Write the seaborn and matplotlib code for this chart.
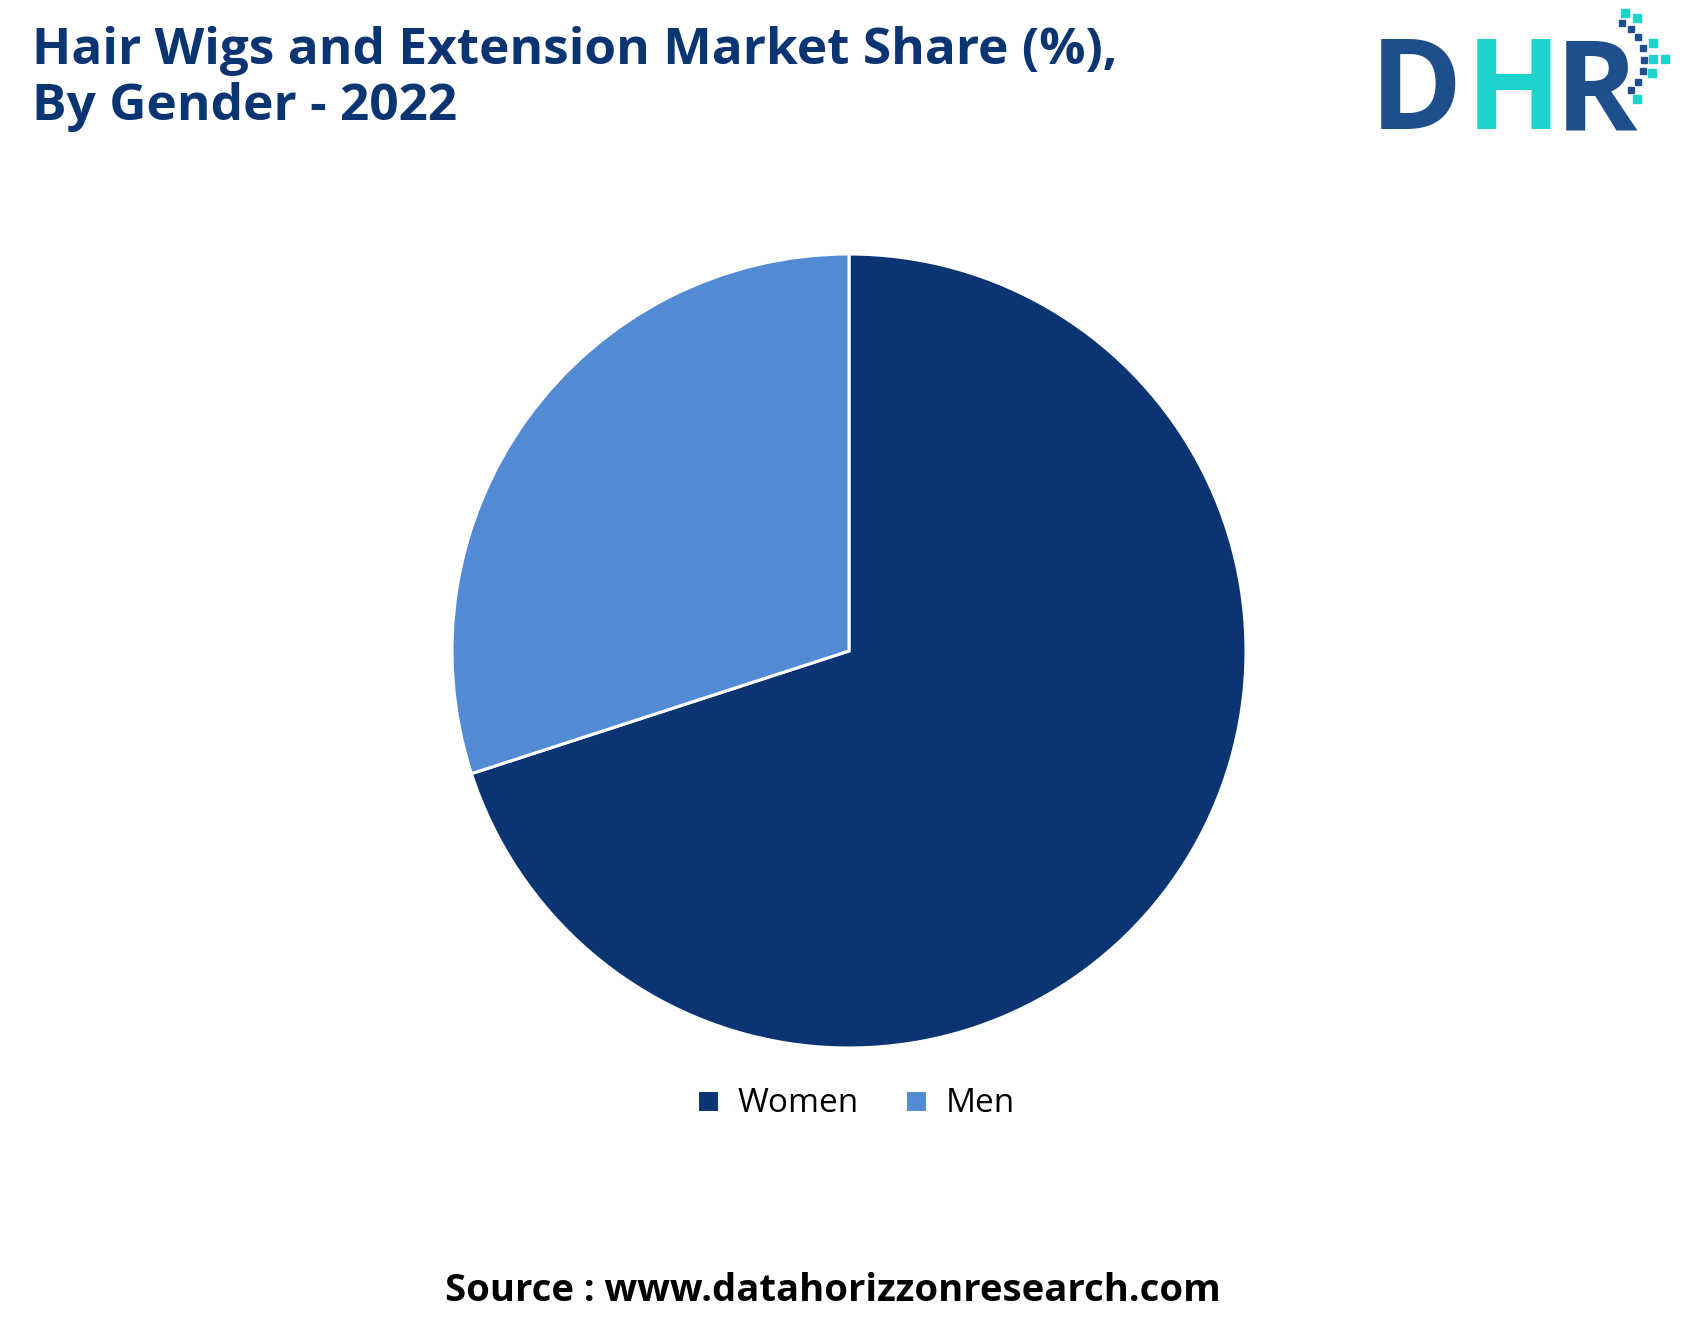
import matplotlib
matplotlib.use("Agg")
import matplotlib.pyplot as plt
import matplotlib.patches as mpatches
import seaborn as sns

# data
genders = ["Women", "Men"]
shares = [70, 30]
colors = ["#0a3472", "#528bd4"]

title = "Hair Wigs and Extension Market Share (%),\nBy Gender - 2022"
source = "Source : www.datahorizzonresearch.com"

sns.set_theme(style="white")
plt.rcParams['font.family'] = ['Open Sans', 'DejaVu Sans']

W, H = 1686, 1333
fig = plt.figure(figsize=(W / 100, H / 100), dpi=100)
fig.patch.set_facecolor("white")

# pie axes: centre (849, 651) px, radius 397 px
cx, cy, r = 849, 651, 397
ax = fig.add_axes([(cx - r) / W, 1 - (cy + r) / H, 2 * r / W, 2 * r / H])
wedges, _ = ax.pie(shares, colors=colors, startangle=90, counterclock=False,
                   wedgeprops=dict(edgecolor="white", linewidth=2.2))
ax.set_xlim(-1, 1)
ax.set_ylim(-1, 1)
ax.set_aspect("equal")
ax.axis("off")

# legend
fig.legend(wedges, genders, loc="center", bbox_to_anchor=(856 / W, 1 - 1104 / H),
           ncol=2, frameon=False, fontsize=24, handlelength=0.65, handleheight=0.65,
           handletextpad=0.55, columnspacing=1.4, labelcolor="black")

# title
fig.text(32 / W, 1 - 120 / H, title, ha="left", va="baseline", fontsize=37,
         fontweight="bold", color="#0a3472", linespacing=1.15)

# source
fig.text(833 / W, 1 - 1301 / H, source, ha="center", va="baseline", fontsize=27.5,
         fontweight="bold", color="black")

# DHR logo
logo_y = 1 - 129 / H
for letter, xc, col in [("D", 1416, "#1f4e8c"), ("H", 1514, "#1dd3cb"), ("R", 1596, "#1f4e8c")]:
    fig.text(xc / W, logo_y, letter, ha="center", va="baseline", fontsize=90,
             fontweight="bold", color=col)

dark_dots = [(1622, 23), (1631, 29), (1638, 37), (1643, 48), (1644, 60),
             (1643, 71), (1638, 82), (1631, 90)]
teal_dots = [(1625, 13), (1637, 18), (1653, 43), (1653, 59), (1665, 59),
             (1652, 73), (1637, 99)]
for pts, col, s in [(dark_dots, "#1f4e8c", 6), (teal_dots, "#1dd3cb", 8)]:
    for x, y in pts:
        fig.patches.append(mpatches.Rectangle(((x - s / 2) / W, 1 - (y + s / 2) / H),
                                              s / W, s / H, transform=fig.transFigure,
                                              color=col, figure=fig))

fig.savefig("out.png", dpi=100, facecolor="white")
